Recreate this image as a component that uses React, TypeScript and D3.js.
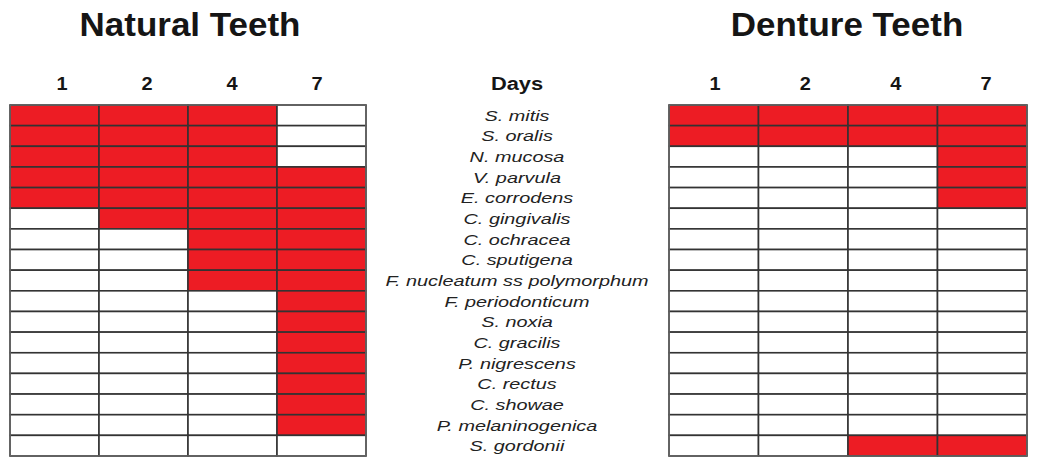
import React from "react";
import * as d3 from "d3";

const days = ["1", "2", "4", "7"];
const species = [
  "S. mitis", "S. oralis", "N. mucosa", "V. parvula", "E. corrodens",
  "C. gingivalis", "C. ochracea", "C. sputigena", "F. nucleatum ss polymorphum",
  "F. periodonticum", "S. noxia", "C. gracilis", "P. nigrescens", "C. rectus",
  "C. showae", "P. melaninogenica", "S. gordonii",
];
const natural = [
  [1, 1, 1, 0], [1, 1, 1, 0], [1, 1, 1, 0], [1, 1, 1, 1], [1, 1, 1, 1],
  [0, 1, 1, 1], [0, 0, 1, 1], [0, 0, 1, 1], [0, 0, 1, 1], [0, 0, 0, 1],
  [0, 0, 0, 1], [0, 0, 0, 1], [0, 0, 0, 1], [0, 0, 0, 1], [0, 0, 0, 1],
  [0, 0, 0, 1], [0, 0, 0, 0],
];
const denture = [
  [1, 1, 1, 1], [1, 1, 1, 1], [0, 0, 0, 1], [0, 0, 0, 1], [0, 0, 0, 1],
  [0, 0, 0, 0], [0, 0, 0, 0], [0, 0, 0, 0], [0, 0, 0, 0], [0, 0, 0, 0],
  [0, 0, 0, 0], [0, 0, 0, 0], [0, 0, 0, 0], [0, 0, 0, 0], [0, 0, 0, 0],
  [0, 0, 0, 0], [0, 0, 1, 1],
];

const W = 1050, H = 470;
const top = 105, bottom = 456;
const font = "'Liberation Sans', Arial, Helvetica, sans-serif";

function T({ x, y, sx = 1, children, ...rest }: any) {
  return (
    <text transform={`translate(${x},${y}) scale(${sx},1)`} textAnchor="middle" {...rest}>{children}</text>
  );
}

function Grid({ x0, x1, lx0, lx1, data, title, tx }: { x0: number; x1: number; lx0: number; lx1: number; data: number[][]; title: string; tx: number }) {
  const x = d3.scaleBand().domain(days).range([x0, x1]);
  const lx = d3.scalePoint().domain(days).range([lx0, lx1]);
  const y = d3.scaleBand().domain(species).range([top, bottom]);
  return (
    <g>
      <T x={tx} y={36} sx={1.06} fontSize={33} fontWeight="bold" fill="#151515">{title}</T>
      {days.map((d) => (
        <T key={d} x={lx(d)!} y={90} sx={1.05} fontSize={19} fontWeight="bold" fill="#151515">{d}</T>
      ))}
      {species.map((s, i) =>
        days.map((d, j) => (
          <rect key={s + d} x={x(d)!} y={y(s)!} width={x.bandwidth()} height={y.bandwidth()}
            fill={data[i][j] ? "#ed1c24" : "#ffffff"} stroke="#333" strokeWidth={1.6} />
        ))
      )}
      <rect x={x0} y={top} width={x1 - x0} height={bottom - top} fill="none" stroke="#666" strokeWidth={1.6} rx={1.5} />
    </g>
  );
}

export default function App() {
  const y = d3.scaleBand().domain(species).range([top, bottom]);
  return (
    <svg width={W} height={H} style={{ position: "absolute", left: 0, top: 0 }} fontFamily={font}>
      <rect width={W} height={H} fill="#fff" />
      <Grid x0={10} x1={366} lx0={62} lx1={317} tx={190} data={natural} title="Natural Teeth" />
      <Grid x0={669} x1={1027} lx0={715} lx1={986} tx={847} data={denture} title="Denture Teeth" />
      <T x={517} y={90} sx={1.15} fontSize={19} fontWeight="bold" fill="#151515">Days</T>
      {species.map((s) => (
        <T key={s} x={517} y={y(s)! + y.bandwidth() / 2 + 5.5} sx={1.28} fontSize={15.5} fontStyle="italic" fill="#222">{s}</T>
      ))}
    </svg>
  );
}
